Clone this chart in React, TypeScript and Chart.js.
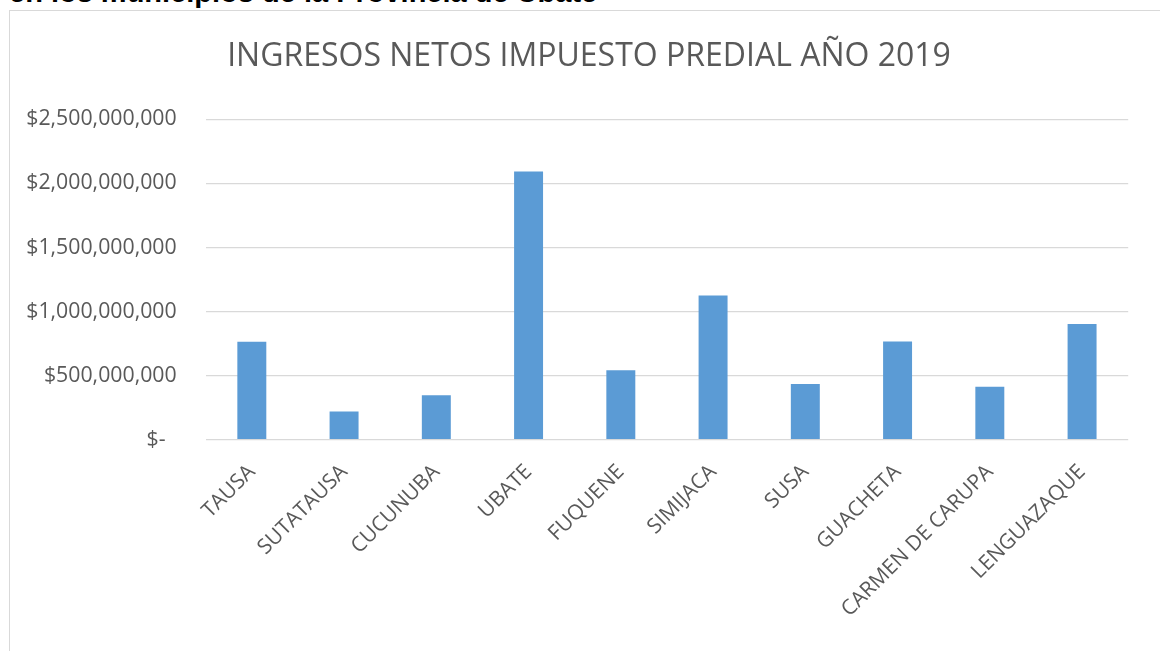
import React, { useEffect, useRef } from "react";
import { Chart, registerables } from "chart.js";

Chart.register(...registerables);

const categories = [
  "TAUSA",
  "SUTATAUSA",
  "CUCUNUBA",
  "UBATE",
  "FUQUENE",
  "SIMIJACA",
  "SUSA",
  "GUACHETA",
  "CARMEN DE CARUPA",
  "LENGUAZAQUE",
];

const ingresos = [
  764000000, 221000000, 346000000, 2093000000, 541000000,
  1126000000, 434000000, 767000000, 413000000, 902000000,
];

const yTickValues = [0, 500000000, 1000000000, 1500000000, 2000000000, 2500000000];

const chartTitle = "INGRESOS NETOS IMPUESTO PREDIAL AÑO 2019";
const headerText = "en los municipios de la Provincia de Ubaté";

function formatMoney(v: number): string {
  if (v === 0) return "$-  ";
  return "$" + Math.round(v).toLocaleString("en-US");
}

export default function App() {
  const canvasRef = useRef<HTMLCanvasElement | null>(null);

  useEffect(() => {
    if (!canvasRef.current) return;
    const chart = new Chart(canvasRef.current, {
      type: "bar",
      data: {
        labels: categories,
        datasets: [
          {
            label: "Ingresos",
            data: ingresos,
            backgroundColor: "#5B9BD5",
            borderWidth: 0,
            barPercentage: 1,
            categoryPercentage: 0.314,
          },
        ],
      },
      options: {
        responsive: false,
        animation: false,
        layout: { padding: { left: 0, right: 0, top: 0, bottom: 0 } },
        plugins: {
          legend: { display: false },
          tooltip: { enabled: false },
          title: {
            display: true,
            text: chartTitle,
            color: "#595959",
            font: { family: "'Open Sans'", size: 32, weight: "normal", lineHeight: 1.2 },
            padding: { top: 27, bottom: 42.9 },
          },
        },
        scales: {
          x: {
            grid: { display: false },
            border: { display: false },
            ticks: {
              color: "#595959",
              font: { family: "'Open Sans'", size: 21 },
              maxRotation: 45,
              minRotation: 45,
              padding: 12,
              autoSkip: false,
            },
            afterFit: (scale: any) => {
              scale.height = 211.3;
            },
          },
          y: {
            min: 0,
            max: 2500000000,
            afterBuildTicks: (scale: any) => {
              scale.ticks = yTickValues.map((v) => ({ value: v }));
            },
            grid: {
              color: "#D9D9D9",
              lineWidth: 1.3,
              drawTicks: false,
            },
            border: { display: false },
            ticks: {
              color: "#595959",
              font: { family: "'Open Sans'", size: 21.3 },
              padding: 29,
              callback: (v: any) => formatMoney(Number(v)),
            },
            afterFit: (scale: any) => {
              scale.width = 195.7;
            },
          },
          spacer: {
            type: "linear",
            position: "right",
            display: true,
            grid: { display: false },
            border: { display: false },
            ticks: { display: false },
            afterFit: (scale: any) => {
              scale.width = 39.8;
            },
          },
        },
      },
    });
    return () => chart.destroy();
  }, []);

  return (
    <div
      style={{
        position: "fixed",
        left: 0,
        top: 0,
        width: 1160,
        height: 651,
        overflow: "hidden",
        background: "#FFFFFF",
      }}
    >
      <div
        style={{
          position: "absolute",
          left: 9,
          top: -22,
          fontFamily: "'Liberation Sans', Arial, sans-serif",
          fontWeight: "bold",
          fontSize: 29,
          lineHeight: "29px",
          whiteSpace: "nowrap",
          color: "#000000",
        }}
      >
        {headerText}
      </div>
      <div
        style={{
          position: "absolute",
          left: 9,
          top: 10,
          width: 1200,
          height: 700,
          border: "1px solid #D9D9D9",
          background: "#FFFFFF",
        }}
      >
        <canvas
          ref={canvasRef}
          width={1158}
          height={640}
          style={{ display: "block", width: 1158, height: 640 }}
        />
      </div>
    </div>
  );
}
